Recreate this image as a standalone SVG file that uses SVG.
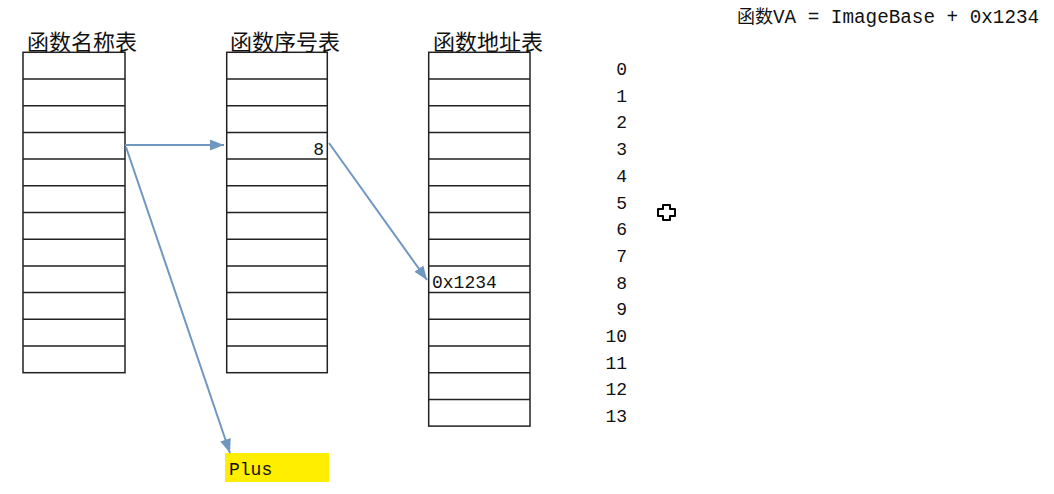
<svg xmlns="http://www.w3.org/2000/svg" width="1054" height="494" viewBox="0 0 1054 494">
<style>
.cell{fill:#fff;stroke:#222;stroke-width:1.5}
.rl{stroke:#222;stroke-width:1.5}
.cjk{font-family:"Noto Sans CJK SC","Liberation Serif",serif;font-size:22px;fill:#111}
.mono{font-family:"Liberation Mono","Noto Sans CJK SC",monospace;font-size:18px;fill:#111}
.arr{stroke:#6f97bf;stroke-width:2;fill:none;marker-end:url(#ah)}
</style>
<defs>
<marker id="ah" markerUnits="userSpaceOnUse" markerWidth="15" markerHeight="13" refX="14" refY="5.5" orient="auto">
<path d="M0,0 L14,5.5 L0,11 z" fill="#6f97bf"/>
</marker>
</defs>
<rect width="1054" height="494" fill="#fff"/>
<g id="title-va"><text class="mono" x="737" y="23" style="font-size:19.3px"><tspan style="font-family:'Noto Sans CJK SC',sans-serif;font-size:18px">函数</tspan>VA = ImageBase + 0x1234</text></g>
<g id="name-table">
<text class="cjk" x="27" y="50">函数名称表</text>
<rect class="cell" x="23" y="52.3" width="102" height="320.4"/>
<path class="rl" d="M23,79 H125 M23,105.7 H125 M23,132.4 H125 M23,159.1 H125 M23,185.8 H125 M23,212.5 H125 M23,239.2 H125 M23,265.9 H125 M23,292.6 H125 M23,319.3 H125 M23,346 H125"/>
</g>
<g id="ordinal-table">
<text class="cjk" x="230" y="50">函数序号表</text>
<rect class="cell" x="226.7" y="52.3" width="100.6" height="320.4"/>
<path class="rl" d="M226.7,79 H327.3 M226.7,105.7 H327.3 M226.7,132.4 H327.3 M226.7,159.1 H327.3 M226.7,185.8 H327.3 M226.7,212.5 H327.3 M226.7,239.2 H327.3 M226.7,265.9 H327.3 M226.7,292.6 H327.3 M226.7,319.3 H327.3 M226.7,346 H327.3"/>
<text class="mono" x="324" y="155" text-anchor="end">8</text>
</g>
<g id="address-table">
<text class="cjk" x="433" y="50">函数地址表</text>
<rect class="cell" x="428.7" y="52.3" width="101.3" height="373.8"/>
<path class="rl" d="M428.7,79 H530 M428.7,105.7 H530 M428.7,132.4 H530 M428.7,159.1 H530 M428.7,185.8 H530 M428.7,212.5 H530 M428.7,239.2 H530 M428.7,265.9 H530 M428.7,292.6 H530 M428.7,319.3 H530 M428.7,346 H530 M428.7,372.7 H530 M428.7,399.4 H530"/>
<text class="mono" x="432" y="288">0x1234</text>
</g>
<g id="indices" class="mono" text-anchor="end">
<text x="627" y="75">0</text>
<text x="627" y="101.7">1</text>
<text x="627" y="128.4">2</text>
<text x="627" y="155.1">3</text>
<text x="627" y="181.8">4</text>
<text x="627" y="208.5">5</text>
<text x="627" y="235.2">6</text>
<text x="627" y="261.9">7</text>
<text x="627" y="288.6">8</text>
<text x="627" y="315.3">9</text>
<text x="627" y="342">10</text>
<text x="627" y="368.7">11</text>
<text x="627" y="395.4">12</text>
<text x="627" y="422.1">13</text>
</g>
<g id="plus-label">
<rect x="225" y="453" width="104" height="29" fill="#ffee00"/>
<text class="mono" x="229" y="475">Plus</text>
</g>
<g id="cursor">
<path d="M663,205 H670 V209 H675 V216 H670 V220 H663 V216 H658 V209 H663 Z" fill="#fff" stroke="#000" stroke-width="2" stroke-linejoin="round"/>
</g>
<g id="connectors">
<line class="arr" x1="125" y1="145" x2="224" y2="145"/>
<line class="arr" x1="329" y1="143" x2="427" y2="280"/>
<line class="arr" x1="126" y1="147" x2="230" y2="453"/>
</g>
</svg>
